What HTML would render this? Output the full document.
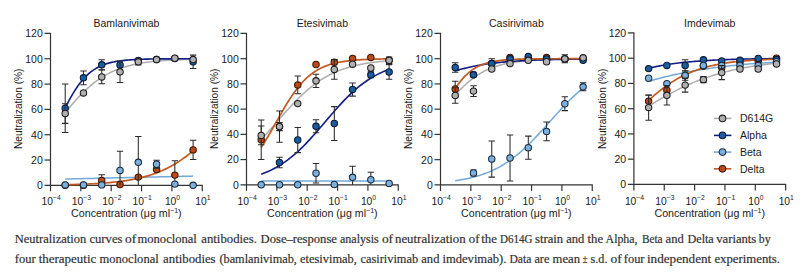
<!DOCTYPE html>
<html><head><meta charset="utf-8"><style>
html,body{margin:0;padding:0;background:#fff;}
body{width:800px;height:275px;overflow:hidden;position:relative;}
svg{position:absolute;left:0;top:0;}
.yt{font-family:"Liberation Sans",sans-serif;font-size:10.5px;fill:#1a1a1a;}
.xt{font-family:"Liberation Sans",sans-serif;font-size:10.3px;fill:#1a1a1a;}
.xsup{font-size:6.8px;}
.ttl{font-family:"Liberation Sans",sans-serif;font-size:10.5px;fill:#1a1a1a;}
.yl{font-family:"Liberation Sans",sans-serif;font-size:10.15px;fill:#1a1a1a;}
.xl{font-family:"Liberation Sans",sans-serif;font-size:10.65px;fill:#1a1a1a;}
.xlsup{font-size:7px;}
.cap{font-family:"Liberation Serif",serif;font-size:13.4px;fill:#303030;stroke:#303030;stroke-width:0.2px;}
</style></head><body>
<svg width="800" height="275" viewBox="0 0 800 275">
<path d="M44.50 33.45H50.50V191.35" fill="none" stroke="#333333" stroke-width="1.2"/>
<path d="M44.50 185.35H202.25V191.35" fill="none" stroke="#333333" stroke-width="1.2"/>
<path d="M44.50 160.03H50.50" stroke="#333333" stroke-width="1.2"/>
<path d="M44.50 134.72H50.50" stroke="#333333" stroke-width="1.2"/>
<path d="M44.50 109.40H50.50" stroke="#333333" stroke-width="1.2"/>
<path d="M44.50 84.08H50.50" stroke="#333333" stroke-width="1.2"/>
<path d="M44.50 58.77H50.50" stroke="#333333" stroke-width="1.2"/>
<path d="M80.85 185.35V191.35" stroke="#333333" stroke-width="1.2"/>
<path d="M111.20 185.35V191.35" stroke="#333333" stroke-width="1.2"/>
<path d="M141.55 185.35V191.35" stroke="#333333" stroke-width="1.2"/>
<path d="M171.90 185.35V191.35" stroke="#333333" stroke-width="1.2"/>
<text x="42.80" y="189.25" text-anchor="end" class="yt">0</text>
<text x="42.80" y="163.93" text-anchor="end" class="yt">20</text>
<text x="42.80" y="138.62" text-anchor="end" class="yt">40</text>
<text x="42.80" y="113.30" text-anchor="end" class="yt">60</text>
<text x="42.80" y="87.98" text-anchor="end" class="yt">80</text>
<text x="42.80" y="62.67" text-anchor="end" class="yt">100</text>
<text x="42.80" y="37.35" text-anchor="end" class="yt">120</text>
<text x="51.10" y="204.50" text-anchor="middle" class="xt">10<tspan class="xsup" dy="-4.3">−4</tspan></text>
<text x="81.45" y="204.50" text-anchor="middle" class="xt">10<tspan class="xsup" dy="-4.3">−3</tspan></text>
<text x="111.80" y="204.50" text-anchor="middle" class="xt">10<tspan class="xsup" dy="-4.3">−2</tspan></text>
<text x="142.15" y="204.50" text-anchor="middle" class="xt">10<tspan class="xsup" dy="-4.3">−1</tspan></text>
<text x="172.50" y="204.50" text-anchor="middle" class="xt">10<tspan class="xsup" dy="-4.3">0</tspan></text>
<text x="202.85" y="204.50" text-anchor="middle" class="xt">10<tspan class="xsup" dy="-4.3">1</tspan></text>
<text x="126.38" y="26.60" text-anchor="middle" class="ttl">Bamlanivimab</text>
<text x="126.38" y="217.30" text-anchor="middle" class="xl">Concentration (μg ml<tspan class="xlsup" dy="-4.2">−1</tspan><tspan dy="4.2">)</tspan></text>
<text transform="translate(22.10 108.80) rotate(-90)" text-anchor="middle" class="yl">Neutralization (%)</text>
<path d="M65.21 112.68 L67.06 110.40 L68.91 108.16 L70.77 105.95 L72.62 103.78 L74.47 101.66 L76.33 99.59 L78.18 97.57 L80.04 95.61 L81.89 93.70 L83.74 91.86 L85.60 90.09 L87.45 88.38 L89.30 86.73 L91.16 85.15 L93.01 83.64 L94.87 82.20 L96.72 80.82 L98.57 79.50 L100.43 78.25 L102.28 77.06 L104.13 75.93 L105.99 74.87 L107.84 73.86 L109.70 72.90 L111.55 72.00 L113.40 71.15 L115.26 70.34 L117.11 69.59 L118.96 68.88 L120.82 68.21 L122.67 67.58 L124.53 67.00 L126.38 66.45 L128.23 65.93 L130.09 65.45 L131.94 64.99 L133.79 64.57 L135.65 64.17 L137.50 63.80 L139.36 63.46 L141.21 63.13 L143.06 62.83 L144.92 62.55 L146.77 62.29 L148.62 62.04 L150.48 61.82 L152.33 61.60 L154.19 61.41 L156.04 61.22 L157.89 61.05 L159.75 60.89 L161.60 60.74 L163.45 60.60 L165.31 60.47 L167.16 60.35 L169.02 60.24 L170.87 60.14 L172.72 60.04 L174.58 59.95 L176.43 59.87 L178.28 59.79 L180.14 59.72 L181.99 59.65 L183.85 59.59 L185.70 59.53 L187.55 59.47 L189.41 59.42 L191.26 59.38 L193.11 59.33" fill="none" stroke="#adadad" stroke-width="1.5" stroke-linejoin="round"/>
<path d="M65.21 179.02 L67.06 178.98 L68.91 178.94 L70.77 178.89 L72.62 178.85 L74.47 178.81 L76.33 178.77 L78.18 178.72 L80.04 178.68 L81.89 178.64 L83.74 178.60 L85.60 178.55 L87.45 178.51 L89.30 178.47 L91.16 178.43 L93.01 178.38 L94.87 178.34 L96.72 178.30 L98.57 178.26 L100.43 178.21 L102.28 178.17 L104.13 178.13 L105.99 178.09 L107.84 178.04 L109.70 178.00 L111.55 177.96 L113.40 177.92 L115.26 177.87 L117.11 177.83 L118.96 177.79 L120.82 177.75 L122.67 177.70 L124.53 177.66 L126.38 177.62 L128.23 177.58 L130.09 177.53 L131.94 177.49 L133.79 177.45 L135.65 177.40 L137.50 177.36 L139.36 177.32 L141.21 177.28 L143.06 177.23 L144.92 177.19 L146.77 177.15 L148.62 177.11 L150.48 177.06 L152.33 177.02 L154.19 176.98 L156.04 176.94 L157.89 176.89 L159.75 176.85 L161.60 176.81 L163.45 176.77 L165.31 176.72 L167.16 176.68 L169.02 176.64 L170.87 176.60 L172.72 176.55 L174.58 176.51 L176.43 176.47 L178.28 176.43 L180.14 176.38 L181.99 176.34 L183.85 176.30 L185.70 176.26 L187.55 176.21 L189.41 176.17 L191.26 176.13 L193.11 176.09" fill="none" stroke="#72a9d8" stroke-width="1.5" stroke-linejoin="round"/>
<path d="M65.21 107.89 L67.06 104.25 L68.91 100.74 L70.77 97.37 L72.62 94.16 L74.47 91.11 L76.33 88.25 L78.18 85.56 L80.04 83.06 L81.89 80.74 L83.74 78.60 L85.60 76.63 L87.45 74.83 L89.30 73.18 L91.16 71.69 L93.01 70.33 L94.87 69.11 L96.72 68.00 L98.57 67.00 L100.43 66.10 L102.28 65.30 L104.13 64.58 L105.99 63.94 L107.84 63.36 L109.70 62.85 L111.55 62.39 L113.40 61.98 L115.26 61.62 L117.11 61.29 L118.96 61.01 L120.82 60.75 L122.67 60.53 L124.53 60.33 L126.38 60.15 L128.23 59.99 L130.09 59.85 L131.94 59.73 L133.79 59.62 L135.65 59.52 L137.50 59.43 L139.36 59.36 L141.21 59.29 L143.06 59.23 L144.92 59.17 L146.77 59.13 L148.62 59.09 L150.48 59.05 L152.33 59.02 L154.19 58.99 L156.04 58.96 L157.89 58.94 L159.75 58.92 L161.60 58.90 L163.45 58.89 L165.31 58.87 L167.16 58.86 L169.02 58.85 L170.87 58.84 L172.72 58.83 L174.58 58.82 L176.43 58.82 L178.28 58.81 L180.14 58.81 L181.99 58.80 L183.85 58.80 L185.70 58.79 L187.55 58.79 L189.41 58.79 L191.26 58.79 L193.11 58.78" fill="none" stroke="#0f1d85" stroke-width="1.6" stroke-linejoin="round"/>
<path d="M65.21 184.72 L67.06 184.68 L68.91 184.64 L70.77 184.59 L72.62 184.54 L74.47 184.49 L76.33 184.43 L78.18 184.38 L80.04 184.31 L81.89 184.25 L83.74 184.18 L85.60 184.10 L87.45 184.02 L89.30 183.94 L91.16 183.85 L93.01 183.75 L94.87 183.65 L96.72 183.54 L98.57 183.42 L100.43 183.30 L102.28 183.17 L104.13 183.03 L105.99 182.89 L107.84 182.73 L109.70 182.57 L111.55 182.39 L113.40 182.20 L115.26 182.01 L117.11 181.80 L118.96 181.57 L120.82 181.34 L122.67 181.09 L124.53 180.82 L126.38 180.54 L128.23 180.24 L130.09 179.93 L131.94 179.59 L133.79 179.24 L135.65 178.86 L137.50 178.47 L139.36 178.05 L141.21 177.61 L143.06 177.14 L144.92 176.65 L146.77 176.12 L148.62 175.57 L150.48 174.99 L152.33 174.38 L154.19 173.74 L156.04 173.06 L157.89 172.35 L159.75 171.60 L161.60 170.82 L163.45 169.99 L165.31 169.13 L167.16 168.22 L169.02 167.27 L170.87 166.28 L172.72 165.25 L174.58 164.16 L176.43 163.04 L178.28 161.86 L180.14 160.64 L181.99 159.37 L183.85 158.06 L185.70 156.70 L187.55 155.28 L189.41 153.83 L191.26 152.32 L193.11 150.77" fill="none" stroke="#c25a22" stroke-width="1.7" stroke-linejoin="round"/>
<circle cx="65.21" cy="185.20" r="3.2" fill="#bd4a14" stroke="#3a1606" stroke-width="1.05"/>
<circle cx="83.48" cy="185.20" r="3.2" fill="#bd4a14" stroke="#3a1606" stroke-width="1.05"/>
<path d="M101.75 174.70V185.35M98.55 174.70H104.95" fill="none" stroke="#2a2a2a" stroke-width="1.05"/>
<circle cx="101.75" cy="180.50" r="3.2" fill="#bd4a14" stroke="#3a1606" stroke-width="1.05"/>
<circle cx="120.02" cy="184.50" r="3.2" fill="#bd4a14" stroke="#3a1606" stroke-width="1.05"/>
<circle cx="138.30" cy="177.10" r="3.2" fill="#bd4a14" stroke="#3a1606" stroke-width="1.05"/>
<circle cx="156.57" cy="169.50" r="3.2" fill="#bd4a14" stroke="#3a1606" stroke-width="1.05"/>
<path d="M174.84 160.80V185.35M171.64 160.80H178.04" fill="none" stroke="#2a2a2a" stroke-width="1.05"/>
<circle cx="174.84" cy="175.10" r="3.2" fill="#bd4a14" stroke="#3a1606" stroke-width="1.05"/>
<path d="M193.11 140.30V159.50M189.91 140.30H196.31M189.91 159.50H196.31" fill="none" stroke="#2a2a2a" stroke-width="1.05"/>
<circle cx="193.11" cy="149.90" r="3.2" fill="#bd4a14" stroke="#3a1606" stroke-width="1.05"/>
<path d="M65.21 84.00V132.40M62.01 84.00H68.41M62.01 132.40H68.41" fill="none" stroke="#2a2a2a" stroke-width="1.05"/>
<circle cx="65.21" cy="108.20" r="3.2" fill="#1a5c9c" stroke="#0a1a38" stroke-width="1.05"/>
<path d="M83.48 70.90V84.70M80.28 70.90H86.68M80.28 84.70H86.68" fill="none" stroke="#2a2a2a" stroke-width="1.05"/>
<circle cx="83.48" cy="77.80" r="3.2" fill="#1a5c9c" stroke="#0a1a38" stroke-width="1.05"/>
<path d="M101.75 59.80V69.80M98.55 59.80H104.95M98.55 69.80H104.95" fill="none" stroke="#2a2a2a" stroke-width="1.05"/>
<circle cx="101.75" cy="64.80" r="3.2" fill="#1a5c9c" stroke="#0a1a38" stroke-width="1.05"/>
<circle cx="120.02" cy="65.00" r="3.2" fill="#1a5c9c" stroke="#0a1a38" stroke-width="1.05"/>
<circle cx="138.30" cy="60.50" r="3.2" fill="#1a5c9c" stroke="#0a1a38" stroke-width="1.05"/>
<circle cx="156.57" cy="59.60" r="3.2" fill="#1a5c9c" stroke="#0a1a38" stroke-width="1.05"/>
<circle cx="174.84" cy="58.50" r="3.2" fill="#1a5c9c" stroke="#0a1a38" stroke-width="1.05"/>
<path d="M193.11 55.10V68.50M189.91 55.10H196.31M189.91 68.50H196.31" fill="none" stroke="#2a2a2a" stroke-width="1.05"/>
<circle cx="193.11" cy="61.80" r="3.2" fill="#1a5c9c" stroke="#0a1a38" stroke-width="1.05"/>
<circle cx="65.21" cy="184.90" r="3.2" fill="#7cb1de" stroke="#1c2b3a" stroke-width="1.05"/>
<circle cx="83.48" cy="184.90" r="3.2" fill="#7cb1de" stroke="#1c2b3a" stroke-width="1.05"/>
<circle cx="101.75" cy="184.90" r="3.2" fill="#7cb1de" stroke="#1c2b3a" stroke-width="1.05"/>
<path d="M120.02 151.20V185.35M116.82 151.20H123.22" fill="none" stroke="#2a2a2a" stroke-width="1.05"/>
<circle cx="120.02" cy="170.40" r="3.2" fill="#7cb1de" stroke="#1c2b3a" stroke-width="1.05"/>
<path d="M138.30 136.50V185.35M135.10 136.50H141.50" fill="none" stroke="#2a2a2a" stroke-width="1.05"/>
<circle cx="138.30" cy="162.30" r="3.2" fill="#7cb1de" stroke="#1c2b3a" stroke-width="1.05"/>
<path d="M156.57 160.30V168.10M153.37 160.30H159.77M153.37 168.10H159.77" fill="none" stroke="#2a2a2a" stroke-width="1.05"/>
<circle cx="156.57" cy="164.20" r="3.2" fill="#7cb1de" stroke="#1c2b3a" stroke-width="1.05"/>
<circle cx="174.84" cy="184.10" r="3.2" fill="#7cb1de" stroke="#1c2b3a" stroke-width="1.05"/>
<circle cx="193.11" cy="185.30" r="3.2" fill="#7cb1de" stroke="#1c2b3a" stroke-width="1.05"/>
<path d="M65.21 103.65V123.35M62.01 103.65H68.41M62.01 123.35H68.41" fill="none" stroke="#2a2a2a" stroke-width="1.05"/>
<circle cx="65.21" cy="113.50" r="3.2" fill="#b0b0b0" stroke="#1e1e1e" stroke-width="1.05"/>
<circle cx="83.48" cy="92.90" r="3.2" fill="#b0b0b0" stroke="#1e1e1e" stroke-width="1.05"/>
<path d="M101.75 70.00V83.80M98.55 70.00H104.95M98.55 83.80H104.95" fill="none" stroke="#2a2a2a" stroke-width="1.05"/>
<circle cx="101.75" cy="76.90" r="3.2" fill="#b0b0b0" stroke="#1e1e1e" stroke-width="1.05"/>
<path d="M120.02 61.10V82.50M116.82 61.10H123.22M116.82 82.50H123.22" fill="none" stroke="#2a2a2a" stroke-width="1.05"/>
<circle cx="120.02" cy="71.80" r="3.2" fill="#b0b0b0" stroke="#1e1e1e" stroke-width="1.05"/>
<path d="M138.30 58.60V65.00M135.10 58.60H141.50M135.10 65.00H141.50" fill="none" stroke="#2a2a2a" stroke-width="1.05"/>
<circle cx="138.30" cy="61.80" r="3.2" fill="#b0b0b0" stroke="#1e1e1e" stroke-width="1.05"/>
<circle cx="156.57" cy="59.60" r="3.2" fill="#b0b0b0" stroke="#1e1e1e" stroke-width="1.05"/>
<circle cx="174.84" cy="58.20" r="3.2" fill="#b0b0b0" stroke="#1e1e1e" stroke-width="1.05"/>
<circle cx="193.11" cy="59.60" r="3.2" fill="#b0b0b0" stroke="#1e1e1e" stroke-width="1.05"/>
<path d="M240.50 33.45H246.50V190.80" fill="none" stroke="#333333" stroke-width="1.2"/>
<path d="M240.50 184.80H398.25V190.80" fill="none" stroke="#333333" stroke-width="1.2"/>
<path d="M240.50 159.58H246.50" stroke="#333333" stroke-width="1.2"/>
<path d="M240.50 134.35H246.50" stroke="#333333" stroke-width="1.2"/>
<path d="M240.50 109.12H246.50" stroke="#333333" stroke-width="1.2"/>
<path d="M240.50 83.90H246.50" stroke="#333333" stroke-width="1.2"/>
<path d="M240.50 58.67H246.50" stroke="#333333" stroke-width="1.2"/>
<path d="M276.85 184.80V190.80" stroke="#333333" stroke-width="1.2"/>
<path d="M307.20 184.80V190.80" stroke="#333333" stroke-width="1.2"/>
<path d="M337.55 184.80V190.80" stroke="#333333" stroke-width="1.2"/>
<path d="M367.90 184.80V190.80" stroke="#333333" stroke-width="1.2"/>
<text x="238.80" y="188.70" text-anchor="end" class="yt">0</text>
<text x="238.80" y="163.48" text-anchor="end" class="yt">20</text>
<text x="238.80" y="138.25" text-anchor="end" class="yt">40</text>
<text x="238.80" y="113.03" text-anchor="end" class="yt">60</text>
<text x="238.80" y="87.80" text-anchor="end" class="yt">80</text>
<text x="238.80" y="62.57" text-anchor="end" class="yt">100</text>
<text x="238.80" y="37.35" text-anchor="end" class="yt">120</text>
<text x="247.10" y="204.50" text-anchor="middle" class="xt">10<tspan class="xsup" dy="-4.3">−4</tspan></text>
<text x="277.45" y="204.50" text-anchor="middle" class="xt">10<tspan class="xsup" dy="-4.3">−3</tspan></text>
<text x="307.80" y="204.50" text-anchor="middle" class="xt">10<tspan class="xsup" dy="-4.3">−2</tspan></text>
<text x="338.15" y="204.50" text-anchor="middle" class="xt">10<tspan class="xsup" dy="-4.3">−1</tspan></text>
<text x="368.50" y="204.50" text-anchor="middle" class="xt">10<tspan class="xsup" dy="-4.3">0</tspan></text>
<text x="398.85" y="204.50" text-anchor="middle" class="xt">10<tspan class="xsup" dy="-4.3">1</tspan></text>
<text x="322.38" y="26.60" text-anchor="middle" class="ttl">Etesivimab</text>
<text x="322.38" y="217.30" text-anchor="middle" class="xl">Concentration (μg ml<tspan class="xlsup" dy="-4.2">−1</tspan><tspan dy="4.2">)</tspan></text>
<text transform="translate(218.10 108.80) rotate(-90)" text-anchor="middle" class="yl">Neutralization (%)</text>
<path d="M261.21 139.42 L263.06 137.44 L264.91 135.43 L266.77 133.39 L268.62 131.32 L270.47 129.23 L272.33 127.13 L274.18 125.01 L276.04 122.88 L277.89 120.75 L279.74 118.63 L281.60 116.51 L283.45 114.40 L285.30 112.31 L287.16 110.24 L289.01 108.20 L290.87 106.18 L292.72 104.20 L294.57 102.25 L296.43 100.35 L298.28 98.49 L300.13 96.67 L301.99 94.90 L303.84 93.19 L305.70 91.52 L307.55 89.91 L309.40 88.35 L311.26 86.84 L313.11 85.39 L314.96 84.00 L316.82 82.66 L318.67 81.38 L320.53 80.15 L322.38 78.97 L324.23 77.85 L326.09 76.78 L327.94 75.75 L329.79 74.78 L331.65 73.86 L333.50 72.98 L335.36 72.14 L337.21 71.35 L339.06 70.60 L340.92 69.89 L342.77 69.22 L344.62 68.59 L346.48 67.99 L348.33 67.42 L350.19 66.89 L352.04 66.39 L353.89 65.91 L355.75 65.46 L357.60 65.04 L359.45 64.65 L361.31 64.28 L363.16 63.92 L365.02 63.60 L366.87 63.29 L368.72 63.00 L370.58 62.72 L372.43 62.47 L374.28 62.23 L376.14 62.00 L377.99 61.79 L379.85 61.59 L381.70 61.40 L383.55 61.23 L385.41 61.07 L387.26 60.91 L389.11 60.77" fill="none" stroke="#adadad" stroke-width="1.5" stroke-linejoin="round"/>
<path d="M261.21 181.02 L263.06 181.02 L264.91 181.02 L266.77 181.02 L268.62 181.02 L270.47 181.02 L272.33 181.02 L274.18 181.02 L276.04 181.02 L277.89 181.02 L279.74 181.02 L281.60 181.02 L283.45 181.02 L285.30 181.02 L287.16 181.02 L289.01 181.02 L290.87 181.02 L292.72 181.02 L294.57 181.02 L296.43 181.02 L298.28 181.02 L300.13 181.02 L301.99 181.02 L303.84 181.02 L305.70 181.02 L307.55 181.02 L309.40 181.02 L311.26 181.02 L313.11 181.02 L314.96 181.02 L316.82 181.02 L318.67 181.02 L320.53 181.02 L322.38 181.02 L324.23 181.02 L326.09 181.02 L327.94 181.02 L329.79 181.02 L331.65 181.02 L333.50 181.02 L335.36 181.02 L337.21 181.02 L339.06 181.02 L340.92 181.02 L342.77 181.02 L344.62 181.02 L346.48 181.02 L348.33 181.02 L350.19 181.02 L352.04 181.02 L353.89 181.02 L355.75 181.02 L357.60 181.02 L359.45 181.02 L361.31 181.02 L363.16 181.02 L365.02 181.02 L366.87 181.02 L368.72 181.02 L370.58 181.02 L372.43 181.02 L374.28 181.02 L376.14 181.02 L377.99 181.02 L379.85 181.02 L381.70 181.02 L383.55 181.02 L385.41 181.02 L387.26 181.02 L389.11 181.02" fill="none" stroke="#72a9d8" stroke-width="1.5" stroke-linejoin="round"/>
<path d="M261.21 174.23 L263.06 173.54 L264.91 172.81 L266.77 172.04 L268.62 171.23 L270.47 170.36 L272.33 169.46 L274.18 168.50 L276.04 167.49 L277.89 166.43 L279.74 165.32 L281.60 164.15 L283.45 162.93 L285.30 161.65 L287.16 160.31 L289.01 158.92 L290.87 157.47 L292.72 155.96 L294.57 154.39 L296.43 152.76 L298.28 151.08 L300.13 149.34 L301.99 147.55 L303.84 145.71 L305.70 143.82 L307.55 141.89 L309.40 139.90 L311.26 137.88 L313.11 135.83 L314.96 133.74 L316.82 131.62 L318.67 129.49 L320.53 127.33 L322.38 125.16 L324.23 122.98 L326.09 120.80 L327.94 118.62 L329.79 116.45 L331.65 114.29 L333.50 112.15 L335.36 110.03 L337.21 107.93 L339.06 105.87 L340.92 103.85 L342.77 101.86 L344.62 99.92 L346.48 98.02 L348.33 96.17 L350.19 94.38 L352.04 92.63 L353.89 90.94 L355.75 89.31 L357.60 87.73 L359.45 86.21 L361.31 84.75 L363.16 83.35 L365.02 82.01 L366.87 80.72 L368.72 79.49 L370.58 78.31 L372.43 77.19 L374.28 76.13 L376.14 75.11 L377.99 74.15 L379.85 73.23 L381.70 72.37 L383.55 71.54 L385.41 70.77 L387.26 70.03 L389.11 69.34" fill="none" stroke="#0f1d85" stroke-width="1.6" stroke-linejoin="round"/>
<path d="M261.21 147.30 L263.06 144.49 L264.91 141.56 L266.77 138.53 L268.62 135.42 L270.47 132.24 L272.33 129.01 L274.18 125.73 L276.04 122.43 L277.89 119.13 L279.74 115.84 L281.60 112.58 L283.45 109.38 L285.30 106.24 L287.16 103.17 L289.01 100.21 L290.87 97.34 L292.72 94.59 L294.57 91.96 L296.43 89.46 L298.28 87.08 L300.13 84.85 L301.99 82.74 L303.84 80.76 L305.70 78.92 L307.55 77.20 L309.40 75.61 L311.26 74.13 L313.11 72.76 L314.96 71.50 L316.82 70.35 L318.67 69.28 L320.53 68.31 L322.38 67.42 L324.23 66.60 L326.09 65.86 L327.94 65.18 L329.79 64.56 L331.65 64.00 L333.50 63.49 L335.36 63.03 L337.21 62.61 L339.06 62.23 L340.92 61.89 L342.77 61.57 L344.62 61.29 L346.48 61.04 L348.33 60.80 L350.19 60.60 L352.04 60.41 L353.89 60.24 L355.75 60.08 L357.60 59.94 L359.45 59.82 L361.31 59.71 L363.16 59.60 L365.02 59.51 L366.87 59.43 L368.72 59.36 L370.58 59.29 L372.43 59.23 L374.28 59.17 L376.14 59.12 L377.99 59.08 L379.85 59.04 L381.70 59.00 L383.55 58.97 L385.41 58.94 L387.26 58.91 L389.11 58.89" fill="none" stroke="#c25a22" stroke-width="1.7" stroke-linejoin="round"/>
<path d="M261.21 119.90V159.50M258.01 119.90H264.41M258.01 159.50H264.41" fill="none" stroke="#2a2a2a" stroke-width="1.05"/>
<circle cx="261.21" cy="139.70" r="3.2" fill="#bd4a14" stroke="#3a1606" stroke-width="1.05"/>
<path d="M279.48 122.60V130.60M276.28 122.60H282.68M276.28 130.60H282.68" fill="none" stroke="#2a2a2a" stroke-width="1.05"/>
<circle cx="279.48" cy="126.60" r="3.2" fill="#bd4a14" stroke="#3a1606" stroke-width="1.05"/>
<path d="M297.75 76.00V93.80M294.55 76.00H300.95M294.55 93.80H300.95" fill="none" stroke="#2a2a2a" stroke-width="1.05"/>
<circle cx="297.75" cy="84.90" r="3.2" fill="#bd4a14" stroke="#3a1606" stroke-width="1.05"/>
<circle cx="316.02" cy="64.50" r="3.2" fill="#bd4a14" stroke="#3a1606" stroke-width="1.05"/>
<path d="M334.30 59.60V64.80M331.10 59.60H337.50M331.10 64.80H337.50" fill="none" stroke="#2a2a2a" stroke-width="1.05"/>
<circle cx="334.30" cy="62.20" r="3.2" fill="#bd4a14" stroke="#3a1606" stroke-width="1.05"/>
<circle cx="352.57" cy="58.40" r="3.2" fill="#bd4a14" stroke="#3a1606" stroke-width="1.05"/>
<circle cx="370.84" cy="57.40" r="3.2" fill="#bd4a14" stroke="#3a1606" stroke-width="1.05"/>
<circle cx="389.11" cy="60.30" r="3.2" fill="#bd4a14" stroke="#3a1606" stroke-width="1.05"/>
<path d="M279.48 157.30V167.70M276.28 157.30H282.68M276.28 167.70H282.68" fill="none" stroke="#2a2a2a" stroke-width="1.05"/>
<circle cx="279.48" cy="162.50" r="3.2" fill="#1a5c9c" stroke="#0a1a38" stroke-width="1.05"/>
<path d="M297.75 127.40V152.60M294.55 127.40H300.95M294.55 152.60H300.95" fill="none" stroke="#2a2a2a" stroke-width="1.05"/>
<circle cx="297.75" cy="140.00" r="3.2" fill="#1a5c9c" stroke="#0a1a38" stroke-width="1.05"/>
<path d="M316.02 119.80V132.80M312.82 119.80H319.22M312.82 132.80H319.22" fill="none" stroke="#2a2a2a" stroke-width="1.05"/>
<circle cx="316.02" cy="126.30" r="3.2" fill="#1a5c9c" stroke="#0a1a38" stroke-width="1.05"/>
<path d="M334.30 106.60V140.40M331.10 106.60H337.50M331.10 140.40H337.50" fill="none" stroke="#2a2a2a" stroke-width="1.05"/>
<circle cx="334.30" cy="123.50" r="3.2" fill="#1a5c9c" stroke="#0a1a38" stroke-width="1.05"/>
<path d="M352.57 82.90V96.10M349.37 82.90H355.77M349.37 96.10H355.77" fill="none" stroke="#2a2a2a" stroke-width="1.05"/>
<circle cx="352.57" cy="89.50" r="3.2" fill="#1a5c9c" stroke="#0a1a38" stroke-width="1.05"/>
<path d="M370.84 71.80V77.80M367.64 71.80H374.04M367.64 77.80H374.04" fill="none" stroke="#2a2a2a" stroke-width="1.05"/>
<circle cx="370.84" cy="74.80" r="3.2" fill="#1a5c9c" stroke="#0a1a38" stroke-width="1.05"/>
<path d="M389.11 64.60V79.20M385.91 64.60H392.31M385.91 79.20H392.31" fill="none" stroke="#2a2a2a" stroke-width="1.05"/>
<circle cx="389.11" cy="71.90" r="3.2" fill="#1a5c9c" stroke="#0a1a38" stroke-width="1.05"/>
<circle cx="261.21" cy="184.70" r="3.2" fill="#7cb1de" stroke="#1c2b3a" stroke-width="1.05"/>
<circle cx="279.48" cy="184.70" r="3.2" fill="#7cb1de" stroke="#1c2b3a" stroke-width="1.05"/>
<circle cx="297.75" cy="184.70" r="3.2" fill="#7cb1de" stroke="#1c2b3a" stroke-width="1.05"/>
<path d="M316.02 163.40V183.00M312.82 163.40H319.22M312.82 183.00H319.22" fill="none" stroke="#2a2a2a" stroke-width="1.05"/>
<circle cx="316.02" cy="173.20" r="3.2" fill="#7cb1de" stroke="#1c2b3a" stroke-width="1.05"/>
<circle cx="334.30" cy="184.50" r="3.2" fill="#7cb1de" stroke="#1c2b3a" stroke-width="1.05"/>
<path d="M352.57 166.30V184.80M349.37 166.30H355.77" fill="none" stroke="#2a2a2a" stroke-width="1.05"/>
<circle cx="352.57" cy="177.30" r="3.2" fill="#7cb1de" stroke="#1c2b3a" stroke-width="1.05"/>
<path d="M370.84 172.20V184.80M367.64 172.20H374.04" fill="none" stroke="#2a2a2a" stroke-width="1.05"/>
<circle cx="370.84" cy="179.70" r="3.2" fill="#7cb1de" stroke="#1c2b3a" stroke-width="1.05"/>
<circle cx="389.11" cy="183.40" r="3.2" fill="#7cb1de" stroke="#1c2b3a" stroke-width="1.05"/>
<path d="M261.21 126.00V144.80M258.01 126.00H264.41M258.01 144.80H264.41" fill="none" stroke="#2a2a2a" stroke-width="1.05"/>
<circle cx="261.21" cy="135.40" r="3.2" fill="#b0b0b0" stroke="#1e1e1e" stroke-width="1.05"/>
<path d="M279.48 111.00V142.20M276.28 111.00H282.68M276.28 142.20H282.68" fill="none" stroke="#2a2a2a" stroke-width="1.05"/>
<circle cx="279.48" cy="126.60" r="3.2" fill="#b0b0b0" stroke="#1e1e1e" stroke-width="1.05"/>
<circle cx="297.75" cy="103.60" r="3.2" fill="#b0b0b0" stroke="#1e1e1e" stroke-width="1.05"/>
<path d="M316.02 74.20V87.40M312.82 74.20H319.22M312.82 87.40H319.22" fill="none" stroke="#2a2a2a" stroke-width="1.05"/>
<circle cx="316.02" cy="80.80" r="3.2" fill="#b0b0b0" stroke="#1e1e1e" stroke-width="1.05"/>
<path d="M334.30 59.60V79.20M331.10 59.60H337.50M331.10 79.20H337.50" fill="none" stroke="#2a2a2a" stroke-width="1.05"/>
<circle cx="334.30" cy="69.40" r="3.2" fill="#b0b0b0" stroke="#1e1e1e" stroke-width="1.05"/>
<circle cx="352.57" cy="64.20" r="3.2" fill="#b0b0b0" stroke="#1e1e1e" stroke-width="1.05"/>
<circle cx="370.84" cy="68.00" r="3.2" fill="#b0b0b0" stroke="#1e1e1e" stroke-width="1.05"/>
<path d="M389.11 57.00V63.60M385.91 57.00H392.31M385.91 63.60H392.31" fill="none" stroke="#2a2a2a" stroke-width="1.05"/>
<circle cx="389.11" cy="60.30" r="3.2" fill="#b0b0b0" stroke="#1e1e1e" stroke-width="1.05"/>
<path d="M434.50 33.45H440.50V190.90" fill="none" stroke="#333333" stroke-width="1.2"/>
<path d="M434.50 184.90H592.25V190.90" fill="none" stroke="#333333" stroke-width="1.2"/>
<path d="M434.50 159.66H440.50" stroke="#333333" stroke-width="1.2"/>
<path d="M434.50 134.42H440.50" stroke="#333333" stroke-width="1.2"/>
<path d="M434.50 109.18H440.50" stroke="#333333" stroke-width="1.2"/>
<path d="M434.50 83.93H440.50" stroke="#333333" stroke-width="1.2"/>
<path d="M434.50 58.69H440.50" stroke="#333333" stroke-width="1.2"/>
<path d="M470.85 184.90V190.90" stroke="#333333" stroke-width="1.2"/>
<path d="M501.20 184.90V190.90" stroke="#333333" stroke-width="1.2"/>
<path d="M531.55 184.90V190.90" stroke="#333333" stroke-width="1.2"/>
<path d="M561.90 184.90V190.90" stroke="#333333" stroke-width="1.2"/>
<text x="432.80" y="188.80" text-anchor="end" class="yt">0</text>
<text x="432.80" y="163.56" text-anchor="end" class="yt">20</text>
<text x="432.80" y="138.32" text-anchor="end" class="yt">40</text>
<text x="432.80" y="113.08" text-anchor="end" class="yt">60</text>
<text x="432.80" y="87.83" text-anchor="end" class="yt">80</text>
<text x="432.80" y="62.59" text-anchor="end" class="yt">100</text>
<text x="432.80" y="37.35" text-anchor="end" class="yt">120</text>
<text x="441.10" y="204.50" text-anchor="middle" class="xt">10<tspan class="xsup" dy="-4.3">−4</tspan></text>
<text x="471.45" y="204.50" text-anchor="middle" class="xt">10<tspan class="xsup" dy="-4.3">−3</tspan></text>
<text x="501.80" y="204.50" text-anchor="middle" class="xt">10<tspan class="xsup" dy="-4.3">−2</tspan></text>
<text x="532.15" y="204.50" text-anchor="middle" class="xt">10<tspan class="xsup" dy="-4.3">−1</tspan></text>
<text x="562.50" y="204.50" text-anchor="middle" class="xt">10<tspan class="xsup" dy="-4.3">0</tspan></text>
<text x="592.85" y="204.50" text-anchor="middle" class="xt">10<tspan class="xsup" dy="-4.3">1</tspan></text>
<text x="516.38" y="26.60" text-anchor="middle" class="ttl">Casirivimab</text>
<text x="516.38" y="217.30" text-anchor="middle" class="xl">Concentration (μg ml<tspan class="xlsup" dy="-4.2">−1</tspan><tspan dy="4.2">)</tspan></text>
<text transform="translate(412.10 108.80) rotate(-90)" text-anchor="middle" class="yl">Neutralization (%)</text>
<path d="M455.21 95.26 L457.06 93.14 L458.91 91.09 L460.77 89.12 L462.62 87.24 L464.47 85.44 L466.33 83.72 L468.18 82.09 L470.04 80.54 L471.89 79.08 L473.74 77.69 L475.60 76.38 L477.45 75.15 L479.30 73.99 L481.16 72.91 L483.01 71.89 L484.87 70.94 L486.72 70.04 L488.57 69.21 L490.43 68.43 L492.28 67.71 L494.13 67.04 L495.99 66.41 L497.84 65.83 L499.70 65.29 L501.55 64.78 L503.40 64.32 L505.26 63.89 L507.11 63.49 L508.96 63.12 L510.82 62.77 L512.67 62.46 L514.53 62.16 L516.38 61.89 L518.23 61.64 L520.09 61.41 L521.94 61.20 L523.79 61.00 L525.65 60.82 L527.50 60.65 L529.36 60.50 L531.21 60.36 L533.06 60.22 L534.92 60.10 L536.77 59.99 L538.62 59.89 L540.48 59.79 L542.33 59.71 L544.19 59.62 L546.04 59.55 L547.89 59.48 L549.75 59.42 L551.60 59.36 L553.45 59.31 L555.31 59.26 L557.16 59.21 L559.02 59.17 L560.87 59.13 L562.72 59.10 L564.58 59.07 L566.43 59.04 L568.28 59.01 L570.14 58.98 L571.99 58.96 L573.85 58.94 L575.70 58.92 L577.55 58.90 L579.41 58.88 L581.26 58.87 L583.11 58.85" fill="none" stroke="#adadad" stroke-width="1.5" stroke-linejoin="round"/>
<path d="M455.21 180.73 L457.06 180.46 L458.91 180.16 L460.77 179.85 L462.62 179.52 L464.47 179.17 L466.33 178.79 L468.18 178.40 L470.04 177.98 L471.89 177.53 L473.74 177.06 L475.60 176.56 L477.45 176.02 L479.30 175.46 L481.16 174.87 L483.01 174.24 L484.87 173.57 L486.72 172.87 L488.57 172.13 L490.43 171.35 L492.28 170.53 L494.13 169.66 L495.99 168.75 L497.84 167.80 L499.70 166.79 L501.55 165.74 L503.40 164.64 L505.26 163.49 L507.11 162.28 L508.96 161.03 L510.82 159.72 L512.67 158.36 L514.53 156.94 L516.38 155.48 L518.23 153.95 L520.09 152.38 L521.94 150.76 L523.79 149.08 L525.65 147.36 L527.50 145.59 L529.36 143.77 L531.21 141.92 L533.06 140.02 L534.92 138.09 L536.77 136.12 L538.62 134.12 L540.48 132.10 L542.33 130.06 L544.19 127.99 L546.04 125.92 L547.89 123.83 L549.75 121.74 L551.60 119.65 L553.45 117.57 L555.31 115.49 L557.16 113.43 L559.02 111.39 L560.87 109.37 L562.72 107.37 L564.58 105.41 L566.43 103.47 L568.28 101.58 L570.14 99.72 L571.99 97.91 L573.85 96.14 L575.70 94.42 L577.55 92.75 L579.41 91.13 L581.26 89.56 L583.11 88.04" fill="none" stroke="#72a9d8" stroke-width="1.5" stroke-linejoin="round"/>
<path d="M455.21 70.99 L457.06 70.42 L458.91 69.87 L460.77 69.35 L462.62 68.85 L464.47 68.37 L466.33 67.91 L468.18 67.48 L470.04 67.06 L471.89 66.66 L473.74 66.28 L475.60 65.91 L477.45 65.56 L479.30 65.23 L481.16 64.91 L483.01 64.61 L484.87 64.32 L486.72 64.05 L488.57 63.78 L490.43 63.53 L492.28 63.29 L494.13 63.07 L495.99 62.85 L497.84 62.65 L499.70 62.45 L501.55 62.26 L503.40 62.09 L505.26 61.92 L507.11 61.76 L508.96 61.60 L510.82 61.46 L512.67 61.32 L514.53 61.19 L516.38 61.06 L518.23 60.94 L520.09 60.83 L521.94 60.72 L523.79 60.62 L525.65 60.52 L527.50 60.43 L529.36 60.34 L531.21 60.26 L533.06 60.18 L534.92 60.11 L536.77 60.04 L538.62 59.97 L540.48 59.90 L542.33 59.84 L544.19 59.78 L546.04 59.73 L547.89 59.68 L549.75 59.63 L551.60 59.58 L553.45 59.53 L555.31 59.49 L557.16 59.45 L559.02 59.41 L560.87 59.38 L562.72 59.34 L564.58 59.31 L566.43 59.28 L568.28 59.25 L570.14 59.22 L571.99 59.19 L573.85 59.17 L575.70 59.14 L577.55 59.12 L579.41 59.10 L581.26 59.08 L583.11 59.06" fill="none" stroke="#0f1d85" stroke-width="1.6" stroke-linejoin="round"/>
<path d="M455.21 88.73 L457.06 85.93 L458.91 83.32 L460.77 80.91 L462.62 78.69 L464.47 76.65 L466.33 74.78 L468.18 73.09 L470.04 71.55 L471.89 70.16 L473.74 68.91 L475.60 67.78 L477.45 66.77 L479.30 65.86 L481.16 65.05 L483.01 64.33 L484.87 63.69 L486.72 63.11 L488.57 62.60 L490.43 62.15 L492.28 61.75 L494.13 61.40 L495.99 61.08 L497.84 60.80 L499.70 60.55 L501.55 60.34 L503.40 60.14 L505.26 59.97 L507.11 59.82 L508.96 59.69 L510.82 59.57 L512.67 59.47 L514.53 59.37 L516.38 59.29 L518.23 59.22 L520.09 59.16 L521.94 59.10 L523.79 59.06 L525.65 59.01 L527.50 58.97 L529.36 58.94 L531.21 58.91 L533.06 58.88 L534.92 58.86 L536.77 58.84 L538.62 58.82 L540.48 58.81 L542.33 58.79 L544.19 58.78 L546.04 58.77 L547.89 58.76 L549.75 58.75 L551.60 58.75 L553.45 58.74 L555.31 58.73 L557.16 58.73 L559.02 58.72 L560.87 58.72 L562.72 58.72 L564.58 58.71 L566.43 58.71 L568.28 58.71 L570.14 58.71 L571.99 58.71 L573.85 58.70 L575.70 58.70 L577.55 58.70 L579.41 58.70 L581.26 58.70 L583.11 58.70" fill="none" stroke="#c25a22" stroke-width="1.7" stroke-linejoin="round"/>
<path d="M455.21 81.30V96.50M452.01 81.30H458.41M452.01 96.50H458.41" fill="none" stroke="#2a2a2a" stroke-width="1.05"/>
<circle cx="455.21" cy="88.90" r="3.2" fill="#bd4a14" stroke="#3a1606" stroke-width="1.05"/>
<circle cx="473.48" cy="74.80" r="3.2" fill="#bd4a14" stroke="#3a1606" stroke-width="1.05"/>
<circle cx="491.75" cy="63.60" r="3.2" fill="#bd4a14" stroke="#3a1606" stroke-width="1.05"/>
<circle cx="510.02" cy="57.50" r="3.2" fill="#bd4a14" stroke="#3a1606" stroke-width="1.05"/>
<circle cx="528.30" cy="58.00" r="3.2" fill="#bd4a14" stroke="#3a1606" stroke-width="1.05"/>
<circle cx="546.57" cy="57.40" r="3.2" fill="#bd4a14" stroke="#3a1606" stroke-width="1.05"/>
<circle cx="564.84" cy="59.00" r="3.2" fill="#bd4a14" stroke="#3a1606" stroke-width="1.05"/>
<circle cx="583.11" cy="58.50" r="3.2" fill="#bd4a14" stroke="#3a1606" stroke-width="1.05"/>
<path d="M455.21 62.80V72.20M452.01 62.80H458.41M452.01 72.20H458.41" fill="none" stroke="#2a2a2a" stroke-width="1.05"/>
<circle cx="455.21" cy="67.50" r="3.2" fill="#1a5c9c" stroke="#0a1a38" stroke-width="1.05"/>
<circle cx="473.48" cy="74.80" r="3.2" fill="#1a5c9c" stroke="#0a1a38" stroke-width="1.05"/>
<path d="M491.75 58.80V68.40M488.55 58.80H494.95M488.55 68.40H494.95" fill="none" stroke="#2a2a2a" stroke-width="1.05"/>
<circle cx="491.75" cy="63.60" r="3.2" fill="#1a5c9c" stroke="#0a1a38" stroke-width="1.05"/>
<circle cx="510.02" cy="58.80" r="3.2" fill="#1a5c9c" stroke="#0a1a38" stroke-width="1.05"/>
<circle cx="528.30" cy="56.60" r="3.2" fill="#1a5c9c" stroke="#0a1a38" stroke-width="1.05"/>
<circle cx="546.57" cy="59.00" r="3.2" fill="#1a5c9c" stroke="#0a1a38" stroke-width="1.05"/>
<circle cx="564.84" cy="59.00" r="3.2" fill="#1a5c9c" stroke="#0a1a38" stroke-width="1.05"/>
<circle cx="583.11" cy="60.30" r="3.2" fill="#1a5c9c" stroke="#0a1a38" stroke-width="1.05"/>
<path d="M473.48 170.00V176.00M470.28 170.00H476.68M470.28 176.00H476.68" fill="none" stroke="#2a2a2a" stroke-width="1.05"/>
<circle cx="473.48" cy="173.00" r="3.2" fill="#7cb1de" stroke="#1c2b3a" stroke-width="1.05"/>
<path d="M491.75 140.90V177.10M488.55 140.90H494.95M488.55 177.10H494.95" fill="none" stroke="#2a2a2a" stroke-width="1.05"/>
<circle cx="491.75" cy="159.00" r="3.2" fill="#7cb1de" stroke="#1c2b3a" stroke-width="1.05"/>
<path d="M510.02 135.00V181.00M506.82 135.00H513.22M506.82 181.00H513.22" fill="none" stroke="#2a2a2a" stroke-width="1.05"/>
<circle cx="510.02" cy="158.00" r="3.2" fill="#7cb1de" stroke="#1c2b3a" stroke-width="1.05"/>
<path d="M528.30 136.10V159.30M525.10 136.10H531.50M525.10 159.30H531.50" fill="none" stroke="#2a2a2a" stroke-width="1.05"/>
<circle cx="528.30" cy="147.70" r="3.2" fill="#7cb1de" stroke="#1c2b3a" stroke-width="1.05"/>
<path d="M546.57 122.00V140.80M543.37 122.00H549.77M543.37 140.80H549.77" fill="none" stroke="#2a2a2a" stroke-width="1.05"/>
<circle cx="546.57" cy="131.40" r="3.2" fill="#7cb1de" stroke="#1c2b3a" stroke-width="1.05"/>
<path d="M564.84 96.80V110.60M561.64 96.80H568.04M561.64 110.60H568.04" fill="none" stroke="#2a2a2a" stroke-width="1.05"/>
<circle cx="564.84" cy="103.70" r="3.2" fill="#7cb1de" stroke="#1c2b3a" stroke-width="1.05"/>
<path d="M583.11 82.80V90.80M579.91 82.80H586.31M579.91 90.80H586.31" fill="none" stroke="#2a2a2a" stroke-width="1.05"/>
<circle cx="583.11" cy="86.80" r="3.2" fill="#7cb1de" stroke="#1c2b3a" stroke-width="1.05"/>
<path d="M455.21 87.80V103.20M452.01 87.80H458.41M452.01 103.20H458.41" fill="none" stroke="#2a2a2a" stroke-width="1.05"/>
<circle cx="455.21" cy="95.50" r="3.2" fill="#b0b0b0" stroke="#1e1e1e" stroke-width="1.05"/>
<path d="M473.48 85.80V96.40M470.28 85.80H476.68M470.28 96.40H476.68" fill="none" stroke="#2a2a2a" stroke-width="1.05"/>
<circle cx="473.48" cy="91.10" r="3.2" fill="#b0b0b0" stroke="#1e1e1e" stroke-width="1.05"/>
<circle cx="491.75" cy="69.00" r="3.2" fill="#b0b0b0" stroke="#1e1e1e" stroke-width="1.05"/>
<circle cx="510.02" cy="63.60" r="3.2" fill="#b0b0b0" stroke="#1e1e1e" stroke-width="1.05"/>
<circle cx="528.30" cy="60.30" r="3.2" fill="#b0b0b0" stroke="#1e1e1e" stroke-width="1.05"/>
<circle cx="546.57" cy="61.70" r="3.2" fill="#b0b0b0" stroke="#1e1e1e" stroke-width="1.05"/>
<path d="M564.84 54.80V62.80M561.64 54.80H568.04M561.64 62.80H568.04" fill="none" stroke="#2a2a2a" stroke-width="1.05"/>
<circle cx="564.84" cy="58.80" r="3.2" fill="#b0b0b0" stroke="#1e1e1e" stroke-width="1.05"/>
<circle cx="583.11" cy="57.80" r="3.2" fill="#b0b0b0" stroke="#1e1e1e" stroke-width="1.05"/>
<path d="M627.90 32.95H633.90V190.40" fill="none" stroke="#333333" stroke-width="1.2"/>
<path d="M627.90 184.40H785.65V190.40" fill="none" stroke="#333333" stroke-width="1.2"/>
<path d="M627.90 159.16H633.90" stroke="#333333" stroke-width="1.2"/>
<path d="M627.90 133.92H633.90" stroke="#333333" stroke-width="1.2"/>
<path d="M627.90 108.68H633.90" stroke="#333333" stroke-width="1.2"/>
<path d="M627.90 83.43H633.90" stroke="#333333" stroke-width="1.2"/>
<path d="M627.90 58.19H633.90" stroke="#333333" stroke-width="1.2"/>
<path d="M664.25 184.40V190.40" stroke="#333333" stroke-width="1.2"/>
<path d="M694.60 184.40V190.40" stroke="#333333" stroke-width="1.2"/>
<path d="M724.95 184.40V190.40" stroke="#333333" stroke-width="1.2"/>
<path d="M755.30 184.40V190.40" stroke="#333333" stroke-width="1.2"/>
<text x="626.20" y="188.30" text-anchor="end" class="yt">0</text>
<text x="626.20" y="163.06" text-anchor="end" class="yt">20</text>
<text x="626.20" y="137.82" text-anchor="end" class="yt">40</text>
<text x="626.20" y="112.58" text-anchor="end" class="yt">60</text>
<text x="626.20" y="87.33" text-anchor="end" class="yt">80</text>
<text x="626.20" y="62.09" text-anchor="end" class="yt">100</text>
<text x="626.20" y="36.85" text-anchor="end" class="yt">120</text>
<text x="634.50" y="204.50" text-anchor="middle" class="xt">10<tspan class="xsup" dy="-4.3">−4</tspan></text>
<text x="664.85" y="204.50" text-anchor="middle" class="xt">10<tspan class="xsup" dy="-4.3">−3</tspan></text>
<text x="695.20" y="204.50" text-anchor="middle" class="xt">10<tspan class="xsup" dy="-4.3">−2</tspan></text>
<text x="725.55" y="204.50" text-anchor="middle" class="xt">10<tspan class="xsup" dy="-4.3">−1</tspan></text>
<text x="755.90" y="204.50" text-anchor="middle" class="xt">10<tspan class="xsup" dy="-4.3">0</tspan></text>
<text x="786.25" y="204.50" text-anchor="middle" class="xt">10<tspan class="xsup" dy="-4.3">1</tspan></text>
<text x="709.77" y="26.60" text-anchor="middle" class="ttl">Imdevimab</text>
<text x="709.77" y="217.30" text-anchor="middle" class="xl">Concentration (μg ml<tspan class="xlsup" dy="-4.2">−1</tspan><tspan dy="4.2">)</tspan></text>
<text transform="translate(605.50 108.80) rotate(-90)" text-anchor="middle" class="yl">Neutralization (%)</text>
<path d="M648.61 106.27 L650.46 105.11 L652.31 103.96 L654.17 102.83 L656.02 101.71 L657.87 100.60 L659.73 99.51 L661.58 98.43 L663.44 97.36 L665.29 96.32 L667.14 95.28 L669.00 94.27 L670.85 93.27 L672.70 92.29 L674.56 91.32 L676.41 90.38 L678.27 89.45 L680.12 88.54 L681.97 87.65 L683.83 86.77 L685.68 85.92 L687.53 85.08 L689.39 84.26 L691.24 83.46 L693.10 82.68 L694.95 81.92 L696.80 81.18 L698.66 80.45 L700.51 79.74 L702.36 79.05 L704.22 78.38 L706.07 77.73 L707.93 77.09 L709.78 76.47 L711.63 75.87 L713.49 75.28 L715.34 74.71 L717.19 74.16 L719.05 73.62 L720.90 73.10 L722.76 72.59 L724.61 72.10 L726.46 71.62 L728.32 71.16 L730.17 70.71 L732.02 70.28 L733.88 69.86 L735.73 69.45 L737.59 69.06 L739.44 68.68 L741.29 68.31 L743.15 67.95 L745.00 67.60 L746.85 67.27 L748.71 66.94 L750.56 66.63 L752.42 66.33 L754.27 66.03 L756.12 65.75 L757.98 65.48 L759.83 65.22 L761.68 64.96 L763.54 64.71 L765.39 64.48 L767.25 64.25 L769.10 64.03 L770.95 63.81 L772.81 63.61 L774.66 63.41 L776.51 63.21" fill="none" stroke="#adadad" stroke-width="1.5" stroke-linejoin="round"/>
<path d="M648.61 81.24 L650.46 80.72 L652.31 80.20 L654.17 79.69 L656.02 79.19 L657.87 78.70 L659.73 78.22 L661.58 77.74 L663.44 77.28 L665.29 76.83 L667.14 76.38 L669.00 75.94 L670.85 75.52 L672.70 75.10 L674.56 74.69 L676.41 74.29 L678.27 73.89 L680.12 73.51 L681.97 73.13 L683.83 72.76 L685.68 72.40 L687.53 72.05 L689.39 71.70 L691.24 71.37 L693.10 71.04 L694.95 70.71 L696.80 70.40 L698.66 70.09 L700.51 69.79 L702.36 69.49 L704.22 69.21 L706.07 68.93 L707.93 68.65 L709.78 68.38 L711.63 68.12 L713.49 67.86 L715.34 67.61 L717.19 67.37 L719.05 67.13 L720.90 66.90 L722.76 66.67 L724.61 66.45 L726.46 66.24 L728.32 66.03 L730.17 65.82 L732.02 65.62 L733.88 65.43 L735.73 65.23 L737.59 65.05 L739.44 64.87 L741.29 64.69 L743.15 64.52 L745.00 64.35 L746.85 64.19 L748.71 64.03 L750.56 63.87 L752.42 63.72 L754.27 63.57 L756.12 63.43 L757.98 63.29 L759.83 63.15 L761.68 63.02 L763.54 62.89 L765.39 62.76 L767.25 62.64 L769.10 62.52 L770.95 62.40 L772.81 62.29 L774.66 62.18 L776.51 62.07" fill="none" stroke="#72a9d8" stroke-width="1.5" stroke-linejoin="round"/>
<path d="M648.61 68.27 L650.46 67.83 L652.31 67.40 L654.17 67.00 L656.02 66.61 L657.87 66.23 L659.73 65.88 L661.58 65.53 L663.44 65.21 L665.29 64.89 L667.14 64.59 L669.00 64.30 L670.85 64.02 L672.70 63.76 L674.56 63.51 L676.41 63.27 L678.27 63.04 L680.12 62.81 L681.97 62.60 L683.83 62.40 L685.68 62.21 L687.53 62.02 L689.39 61.85 L691.24 61.68 L693.10 61.52 L694.95 61.36 L696.80 61.22 L698.66 61.08 L700.51 60.94 L702.36 60.82 L704.22 60.69 L706.07 60.58 L707.93 60.47 L709.78 60.36 L711.63 60.26 L713.49 60.16 L715.34 60.07 L717.19 59.98 L719.05 59.90 L720.90 59.82 L722.76 59.74 L724.61 59.67 L726.46 59.60 L728.32 59.54 L730.17 59.47 L732.02 59.41 L733.88 59.36 L735.73 59.30 L737.59 59.25 L739.44 59.20 L741.29 59.15 L743.15 59.11 L745.00 59.06 L746.85 59.02 L748.71 58.98 L750.56 58.95 L752.42 58.91 L754.27 58.88 L756.12 58.84 L757.98 58.81 L759.83 58.78 L761.68 58.76 L763.54 58.73 L765.39 58.70 L767.25 58.68 L769.10 58.66 L770.95 58.64 L772.81 58.61 L774.66 58.59 L776.51 58.58" fill="none" stroke="#0f1d85" stroke-width="1.6" stroke-linejoin="round"/>
<path d="M648.61 100.35 L650.46 98.66 L652.31 97.01 L654.17 95.40 L656.02 93.83 L657.87 92.30 L659.73 90.81 L661.58 89.36 L663.44 87.96 L665.29 86.60 L667.14 85.29 L669.00 84.02 L670.85 82.79 L672.70 81.61 L674.56 80.48 L676.41 79.39 L678.27 78.34 L680.12 77.33 L681.97 76.37 L683.83 75.44 L685.68 74.56 L687.53 73.71 L689.39 72.91 L691.24 72.14 L693.10 71.40 L694.95 70.70 L696.80 70.03 L698.66 69.40 L700.51 68.79 L702.36 68.22 L704.22 67.67 L706.07 67.15 L707.93 66.66 L709.78 66.19 L711.63 65.75 L713.49 65.33 L715.34 64.93 L717.19 64.56 L719.05 64.20 L720.90 63.86 L722.76 63.54 L724.61 63.24 L726.46 62.95 L728.32 62.68 L730.17 62.43 L732.02 62.19 L733.88 61.96 L735.73 61.74 L737.59 61.54 L739.44 61.35 L741.29 61.17 L743.15 60.99 L745.00 60.83 L746.85 60.68 L748.71 60.54 L750.56 60.40 L752.42 60.27 L754.27 60.15 L756.12 60.04 L757.98 59.93 L759.83 59.83 L761.68 59.73 L763.54 59.64 L765.39 59.56 L767.25 59.48 L769.10 59.41 L770.95 59.33 L772.81 59.27 L774.66 59.20 L776.51 59.15" fill="none" stroke="#c25a22" stroke-width="1.7" stroke-linejoin="round"/>
<path d="M648.61 95.30V106.90M645.41 95.30H651.81M645.41 106.90H651.81" fill="none" stroke="#2a2a2a" stroke-width="1.05"/>
<circle cx="648.61" cy="101.10" r="3.2" fill="#bd4a14" stroke="#3a1606" stroke-width="1.05"/>
<circle cx="666.88" cy="90.20" r="3.2" fill="#bd4a14" stroke="#3a1606" stroke-width="1.05"/>
<circle cx="685.15" cy="75.50" r="3.2" fill="#bd4a14" stroke="#3a1606" stroke-width="1.05"/>
<circle cx="703.42" cy="66.00" r="3.2" fill="#bd4a14" stroke="#3a1606" stroke-width="1.05"/>
<circle cx="721.70" cy="67.50" r="3.2" fill="#bd4a14" stroke="#3a1606" stroke-width="1.05"/>
<circle cx="739.97" cy="62.00" r="3.2" fill="#bd4a14" stroke="#3a1606" stroke-width="1.05"/>
<circle cx="758.24" cy="61.00" r="3.2" fill="#bd4a14" stroke="#3a1606" stroke-width="1.05"/>
<circle cx="776.51" cy="58.20" r="3.2" fill="#bd4a14" stroke="#3a1606" stroke-width="1.05"/>
<circle cx="648.61" cy="68.60" r="3.2" fill="#1a5c9c" stroke="#0a1a38" stroke-width="1.05"/>
<circle cx="666.88" cy="65.40" r="3.2" fill="#1a5c9c" stroke="#0a1a38" stroke-width="1.05"/>
<path d="M685.15 59.80V71.00M681.95 59.80H688.35M681.95 71.00H688.35" fill="none" stroke="#2a2a2a" stroke-width="1.05"/>
<circle cx="685.15" cy="65.40" r="3.2" fill="#1a5c9c" stroke="#0a1a38" stroke-width="1.05"/>
<circle cx="703.42" cy="59.80" r="3.2" fill="#1a5c9c" stroke="#0a1a38" stroke-width="1.05"/>
<circle cx="721.70" cy="61.00" r="3.2" fill="#1a5c9c" stroke="#0a1a38" stroke-width="1.05"/>
<circle cx="739.97" cy="60.30" r="3.2" fill="#1a5c9c" stroke="#0a1a38" stroke-width="1.05"/>
<circle cx="758.24" cy="58.40" r="3.2" fill="#1a5c9c" stroke="#0a1a38" stroke-width="1.05"/>
<circle cx="776.51" cy="59.60" r="3.2" fill="#1a5c9c" stroke="#0a1a38" stroke-width="1.05"/>
<circle cx="648.61" cy="78.20" r="3.2" fill="#7cb1de" stroke="#1c2b3a" stroke-width="1.05"/>
<circle cx="666.88" cy="83.60" r="3.2" fill="#7cb1de" stroke="#1c2b3a" stroke-width="1.05"/>
<path d="M685.15 70.80V80.20M681.95 70.80H688.35M681.95 80.20H688.35" fill="none" stroke="#2a2a2a" stroke-width="1.05"/>
<circle cx="685.15" cy="75.50" r="3.2" fill="#7cb1de" stroke="#1c2b3a" stroke-width="1.05"/>
<circle cx="703.42" cy="65.40" r="3.2" fill="#7cb1de" stroke="#1c2b3a" stroke-width="1.05"/>
<circle cx="721.70" cy="65.40" r="3.2" fill="#7cb1de" stroke="#1c2b3a" stroke-width="1.05"/>
<circle cx="739.97" cy="65.40" r="3.2" fill="#7cb1de" stroke="#1c2b3a" stroke-width="1.05"/>
<circle cx="758.24" cy="65.40" r="3.2" fill="#7cb1de" stroke="#1c2b3a" stroke-width="1.05"/>
<circle cx="776.51" cy="61.70" r="3.2" fill="#7cb1de" stroke="#1c2b3a" stroke-width="1.05"/>
<path d="M648.61 94.90V120.30M645.41 94.90H651.81M645.41 120.30H651.81" fill="none" stroke="#2a2a2a" stroke-width="1.05"/>
<circle cx="648.61" cy="107.60" r="3.2" fill="#b0b0b0" stroke="#1e1e1e" stroke-width="1.05"/>
<path d="M666.88 85.60V105.00M663.68 85.60H670.08M663.68 105.00H670.08" fill="none" stroke="#2a2a2a" stroke-width="1.05"/>
<circle cx="666.88" cy="95.30" r="3.2" fill="#b0b0b0" stroke="#1e1e1e" stroke-width="1.05"/>
<path d="M685.15 78.10V92.10M681.95 78.10H688.35M681.95 92.10H688.35" fill="none" stroke="#2a2a2a" stroke-width="1.05"/>
<circle cx="685.15" cy="85.10" r="3.2" fill="#b0b0b0" stroke="#1e1e1e" stroke-width="1.05"/>
<path d="M703.42 76.60V82.60M700.22 76.60H706.62M700.22 82.60H706.62" fill="none" stroke="#2a2a2a" stroke-width="1.05"/>
<circle cx="703.42" cy="79.60" r="3.2" fill="#b0b0b0" stroke="#1e1e1e" stroke-width="1.05"/>
<path d="M721.70 65.60V79.60M718.50 65.60H724.90M718.50 79.60H724.90" fill="none" stroke="#2a2a2a" stroke-width="1.05"/>
<circle cx="721.70" cy="72.60" r="3.2" fill="#b0b0b0" stroke="#1e1e1e" stroke-width="1.05"/>
<circle cx="739.97" cy="69.00" r="3.2" fill="#b0b0b0" stroke="#1e1e1e" stroke-width="1.05"/>
<circle cx="758.24" cy="69.00" r="3.2" fill="#b0b0b0" stroke="#1e1e1e" stroke-width="1.05"/>
<circle cx="776.51" cy="63.90" r="3.2" fill="#b0b0b0" stroke="#1e1e1e" stroke-width="1.05"/>
<path d="M714 118.4H731.4" stroke="#adadad" stroke-width="1.6"/>
<circle cx="722.5" cy="118.4" r="3.3" fill="#b0b0b0" stroke="#1e1e1e" stroke-width="1.05"/>
<text x="740" y="122.30" class="ttl">D614G</text>
<path d="M714 135.4H731.4" stroke="#0f1d85" stroke-width="1.6"/>
<circle cx="722.5" cy="135.4" r="3.3" fill="#1a5c9c" stroke="#0a1a38" stroke-width="1.05"/>
<text x="740" y="139.30" class="ttl">Alpha</text>
<path d="M714 152.1H731.4" stroke="#72a9d8" stroke-width="1.6"/>
<circle cx="722.5" cy="152.1" r="3.3" fill="#7cb1de" stroke="#1c2b3a" stroke-width="1.05"/>
<text x="740" y="156.00" class="ttl">Beta</text>
<path d="M714 168.8H731.4" stroke="#c25a22" stroke-width="1.6"/>
<circle cx="722.5" cy="168.8" r="3.3" fill="#bd4a14" stroke="#3a1606" stroke-width="1.05"/>
<text x="740" y="172.70" class="ttl">Delta</text>
<text x="14.75" y="243.3" class="cap" textLength="71.51" lengthAdjust="spacingAndGlyphs">Neutralization</text>
<text x="89.40" y="243.3" class="cap" textLength="33.08" lengthAdjust="spacingAndGlyphs">curves</text>
<text x="125.00" y="243.3" class="cap" textLength="11.23" lengthAdjust="spacingAndGlyphs">of</text>
<text x="137.50" y="243.3" class="cap" textLength="59.38" lengthAdjust="spacingAndGlyphs">monoclonal</text>
<text x="201.25" y="243.3" class="cap" textLength="55.64" lengthAdjust="spacingAndGlyphs">antibodies.</text>
<text x="260.60" y="243.3" class="cap" textLength="76.31" lengthAdjust="spacingAndGlyphs">Dose–response</text>
<text x="340.00" y="243.3" class="cap" textLength="38.73" lengthAdjust="spacingAndGlyphs">analysis</text>
<text x="381.90" y="243.3" class="cap" textLength="11.18" lengthAdjust="spacingAndGlyphs">of</text>
<text x="395.00" y="243.3" class="cap" textLength="70.62" lengthAdjust="spacingAndGlyphs">neutralization</text>
<text x="468.75" y="243.3" class="cap" textLength="10.63" lengthAdjust="spacingAndGlyphs">of</text>
<text x="481.25" y="243.3" class="cap" textLength="15.63" lengthAdjust="spacingAndGlyphs">the</text>
<text x="500.00" y="243.3" class="cap" textLength="32.48" lengthAdjust="spacingAndGlyphs">D614G</text>
<text x="535.00" y="243.3" class="cap" textLength="28.08" lengthAdjust="spacingAndGlyphs">strain</text>
<text x="566.25" y="243.3" class="cap" textLength="18.17" lengthAdjust="spacingAndGlyphs">and</text>
<text x="587.50" y="243.3" class="cap" textLength="15.58" lengthAdjust="spacingAndGlyphs">the</text>
<text x="605.60" y="243.3" class="cap" textLength="31.92" lengthAdjust="spacingAndGlyphs">Alpha,</text>
<text x="641.90" y="243.3" class="cap" textLength="20.62" lengthAdjust="spacingAndGlyphs">Beta</text>
<text x="665.60" y="243.3" class="cap" textLength="18.17" lengthAdjust="spacingAndGlyphs">and</text>
<text x="687.50" y="243.3" class="cap" textLength="26.25" lengthAdjust="spacingAndGlyphs">Delta</text>
<text x="716.25" y="243.3" class="cap" textLength="40.00" lengthAdjust="spacingAndGlyphs">variants</text>
<text x="758.75" y="243.3" class="cap" textLength="11.85" lengthAdjust="spacingAndGlyphs">by</text>
<text x="14.75" y="262.5" class="cap" textLength="20.86" lengthAdjust="spacingAndGlyphs">four</text>
<text x="38.75" y="262.5" class="cap" textLength="57.50" lengthAdjust="spacingAndGlyphs">therapeutic</text>
<text x="99.50" y="262.5" class="cap" textLength="59.23" lengthAdjust="spacingAndGlyphs">monoclonal</text>
<text x="163.10" y="262.5" class="cap" textLength="52.49" lengthAdjust="spacingAndGlyphs">antibodies</text>
<text x="219.40" y="262.5" class="cap" textLength="77.50" lengthAdjust="spacingAndGlyphs">(bamlanivimab,</text>
<text x="300.00" y="262.5" class="cap" textLength="56.92" lengthAdjust="spacingAndGlyphs">etesivimab,</text>
<text x="360.60" y="262.5" class="cap" textLength="57.50" lengthAdjust="spacingAndGlyphs">casirivimab</text>
<text x="421.30" y="262.5" class="cap" textLength="18.12" lengthAdjust="spacingAndGlyphs">and</text>
<text x="442.50" y="262.5" class="cap" textLength="63.82" lengthAdjust="spacingAndGlyphs">imdevimab).</text>
<text x="509.40" y="262.5" class="cap" textLength="21.89" lengthAdjust="spacingAndGlyphs">Data</text>
<text x="534.40" y="262.5" class="cap" textLength="15.02" lengthAdjust="spacingAndGlyphs">are</text>
<text x="552.50" y="262.5" class="cap" textLength="27.50" lengthAdjust="spacingAndGlyphs">mean</text>
<text x="582.50" y="262.5" class="cap" textLength="4.99" lengthAdjust="spacingAndGlyphs">±</text>
<text x="590.60" y="262.5" class="cap" textLength="16.91" lengthAdjust="spacingAndGlyphs">s.d.</text>
<text x="610.60" y="262.5" class="cap" textLength="11.28" lengthAdjust="spacingAndGlyphs">of</text>
<text x="623.75" y="262.5" class="cap" textLength="20.76" lengthAdjust="spacingAndGlyphs">four</text>
<text x="646.90" y="262.5" class="cap" textLength="64.33" lengthAdjust="spacingAndGlyphs">independent</text>
<text x="714.40" y="262.5" class="cap" textLength="65.58" lengthAdjust="spacingAndGlyphs">experiments.</text>
</svg>
</body></html>
